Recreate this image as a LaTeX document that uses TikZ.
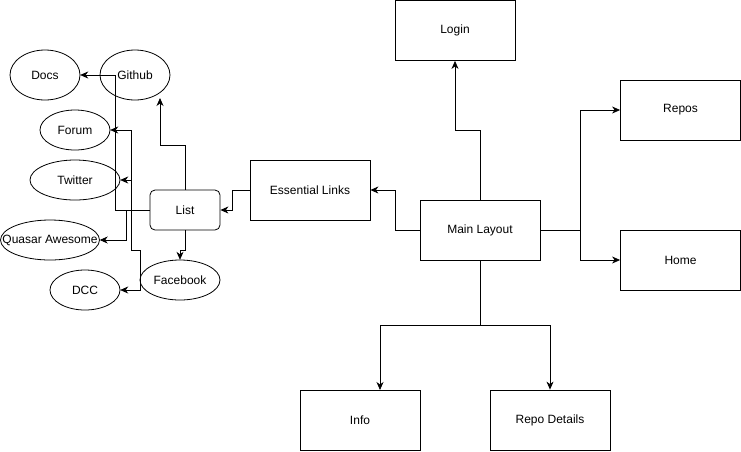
\documentclass[tikz,border=0pt]{standalone}
\usepackage{fontspec}
\setmainfont{Liberation Sans}
\usetikzlibrary{arrows.meta}
\begin{document}
\begin{tikzpicture}[x=1pt,y=-1pt,
  every node/.style={font=\fontsize{12}{14}\selectfont, inner sep=0pt},
  box/.style={draw, line width=0.8pt, minimum width=120pt, minimum height=60pt},
  rbox/.style={draw, line width=0.8pt, rounded corners=5pt, minimum width=70pt, minimum height=40pt},
  ellline/.style={line width=0.8pt},
  conn/.style={draw, line width=0.8pt, -{Stealth[length=8pt,width=7pt,inset=2.5pt]}}]
\useasboundingbox (0,0) rectangle (741,451);
% boxes
\node[box] (login) at (455,30.5) {Login};
\node[box] (repos) at (680.5,110) {Repos};
\node[box] (home) at (680.5,260) {Home};
\node[box] (main) at (480,230) {Main Layout};
\node[box] (ess) at (310,190) {Essential Links};
\node[box] (info) at (360,420) {Info};
\node[box] (rd) at (550,420) {Repo Details};
\node[rbox] (list) at (185,210) {List};
% ellipses (shape drawn separately, node used for anchors)
\node[minimum width=70pt, minimum height=50pt] (github) at (135,75) {};
\node[minimum width=70pt, minimum height=50pt] (docs) at (45,75) {};
\node[minimum width=70pt, minimum height=40pt] (forum) at (75,130) {};
\node[minimum width=90pt, minimum height=40pt] (twitter) at (75,180) {};
\node[minimum width=99pt, minimum height=40pt] (quasar) at (50,240) {};
\node[minimum width=80pt, minimum height=40pt] (facebook) at (180,280) {};
\node[minimum width=70pt, minimum height=40pt] (dcc) at (85,290) {};
\foreach \n/\rx/\ry in {github/35/25, docs/35/25, forum/35/20, twitter/45/20, quasar/49.5/20, facebook/40/20, dcc/35/20}
  \draw[ellline] (\n.center) ellipse [x radius=\rx, y radius=\ry];
\node at (github) {Github};
\node at (docs) {Docs};
\node at (forum) {Forum};
\node at (twitter) {Twitter};
\node at (quasar) {Quasar Awesome};
\node at (facebook) {Facebook};
\node at (dcc) {DCC};
% main connectors
\draw[conn] (main.north) -- (480,130) -- (455,130) -- (login.south);
\draw[conn] (main.east) -- (580,230) -- (580,110) -- (repos.west);
\draw[conn] (main.east) -- (580,230) -- (580,260) -- (home.west);
\draw[conn] (main.west) -- (395,230) -- (395,190) -- (ess.east);
\draw[conn] (main.south) -- (480,325) -- (380,325) -- (380,390);
\draw[conn] (main.south) -- (480,325) -- (550,325) -- (rd.north);
\draw[conn] (ess.west) -- (232,190) -- (232,210) -- (list.east);
% list connectors
\draw[conn] (list.north) -- (185,145) -- (160,145) -- (160,98);
\draw[conn] (list.south) -- (185,250) -- (180,250) -- (facebook.north);
\draw[conn] (list.west) -- (115,210) -- (115,75) -- (docs.east);
\draw[conn] (list.west) -- (131,210) -- (131,130) -- (forum.east);
\draw[conn] (list.west) -- (131,210) -- (131,180) -- (twitter.east);
\draw[conn] (list.west) -- (126,210) -- (126,240) -- (quasar.east);
\draw[conn] (list.west) -- (131,210) -- (131,250) -- (140,250) -- (140,290) -- (dcc.east);
\end{tikzpicture}
\end{document}
